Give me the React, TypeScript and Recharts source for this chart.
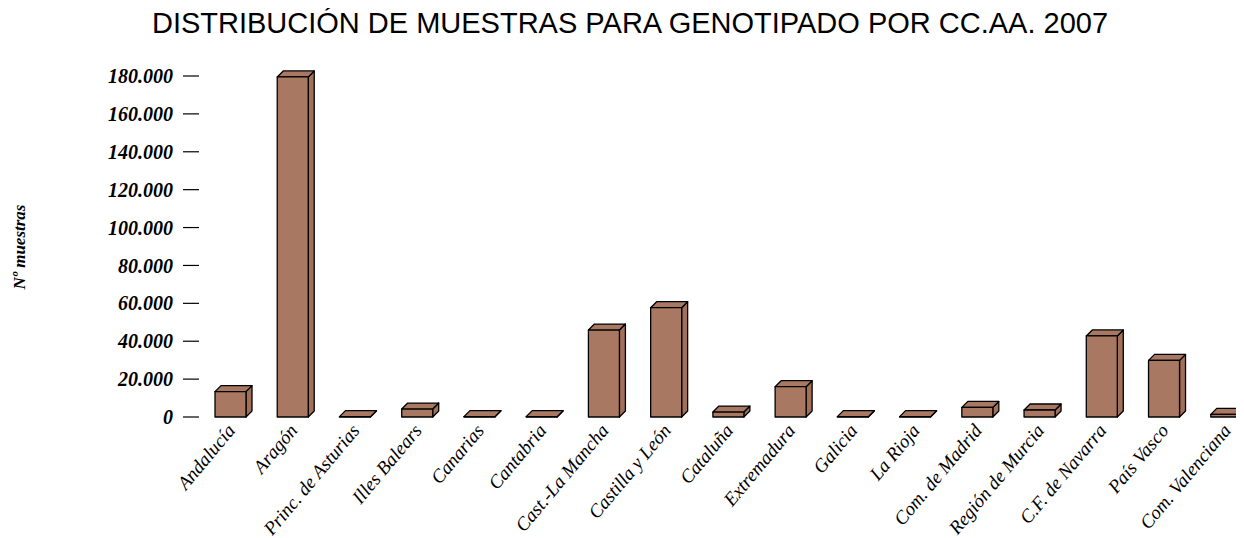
import { BarChart, Bar, XAxis, YAxis } from "recharts";

const regions = [
  "Andalucía",
  "Aragón",
  "Princ. de Asturias",
  "Illes Balears",
  "Canarias",
  "Cantabria",
  "Cast.-La Mancha",
  "Castilla y León",
  "Cataluña",
  "Extremadura",
  "Galicia",
  "La Rioja",
  "Com. de Madrid",
  "Región de Murcia",
  "C.F. de Navarra",
  "País Vasco",
  "Com. Valenciana",
];

const samples = [
  13400, 179500, 200, 4200, 200, 200, 45900, 57700, 2600, 16000, 200, 200,
  5100, 3700, 42800, 29900, 1400,
];

const yTicks = [0, 20000, 40000, 60000, 80000, 100000, 120000, 140000, 160000, 180000];

const data = regions.map((name, i) => ({ name, value: samples[i] }));

const serif = "'Liberation Serif', 'Times New Roman', serif";
const FILL = "#a97862";
const DEPTH = 6;

const fmt = (v: number) => String(v).replace(/\B(?=(\d{3})+(?!\d))/g, ".");

// caja 3D: frente, tapa y lateral
const Box = (props: any) => {
  const { x, y, width, height } = props;
  const d = DEPTH;
  const b = y + height;
  return (
    <g stroke="#000" strokeWidth={1.3} strokeLinejoin="round" fill={FILL}>
      <path d={`M${x + width},${y} L${x + width + d},${y - d} L${x + width + d},${b - d} L${x + width},${b} Z`} fill="#a27058" />
      <path d={`M${x},${y} L${x + d},${y - d} L${x + width + d},${y - d} L${x + width},${y} Z`} />
      <rect x={x} y={y} width={width} height={height} />
    </g>
  );
};

const XTick = ({ x, y, payload }: any) => {
  const tx = x + 6;
  const ty = y + 14;
  return (
    <text
      x={tx}
      y={ty}
      transform={`rotate(-50, ${tx}, ${ty})`}
      textAnchor="end"
      fontFamily={serif}
      fontStyle="italic"
      fontSize={19}
      fill="#000"
    >
      {payload.value}
    </text>
  );
};

export default function App() {
  return (
    <div style={{ position: "relative", width: 1236, height: 530, background: "#fff" }}>
      <div style={{ position: "absolute", left: 0, top: 0, width: 1236, height: 530, overflow: "hidden" }}>
        <BarChart
          width={1260}
          height={530}
          data={data}
          margin={{ top: 68, right: 11, bottom: 8, left: 41 }}
        >
          <XAxis
            dataKey="name"
            interval={0}
            axisLine={false}
            tickLine={false}
            tickSize={0}
            tickMargin={0}
            height={113}
            tick={<XTick />}
          />
          <YAxis
            width={150}
            domain={[0, 180000]}
            ticks={yTicks}
            axisLine={false}
            tickSize={16}
            tickMargin={10}
            tickLine={{ stroke: "#000", strokeWidth: 1.2 }}
            tickFormatter={fmt}
            tick={{ fontSize: 20, fontWeight: "bold", fontStyle: "italic", fontFamily: serif, fill: "#000" }}
          />
          <Bar dataKey="value" barSize={31} shape={<Box />} isAnimationActive={false} />
        </BarChart>
      </div>
      <div
        style={{
          position: "absolute",
          left: 0,
          top: -3,
          width: 1244,
          textAlign: "center",
          fontFamily: "'Liberation Sans', Arial, sans-serif",
          fontSize: 29,
          lineHeight: "36px",
          color: "#000",
          whiteSpace: "nowrap",
        }}
      >
        DISTRIBUCIÓN DE MUESTRAS PARA GENOTIPADO POR CC.AA. 2007
      </div>
      <div
        style={{
          position: "absolute",
          left: 12,
          top: 239,
          transform: "translate(-50%, -50%) rotate(-90deg)",
          fontFamily: serif,
          fontStyle: "italic",
          fontWeight: "bold",
          fontSize: 17,
          whiteSpace: "nowrap",
        }}
      >
        Nº muestras
      </div>
    </div>
  );
}
